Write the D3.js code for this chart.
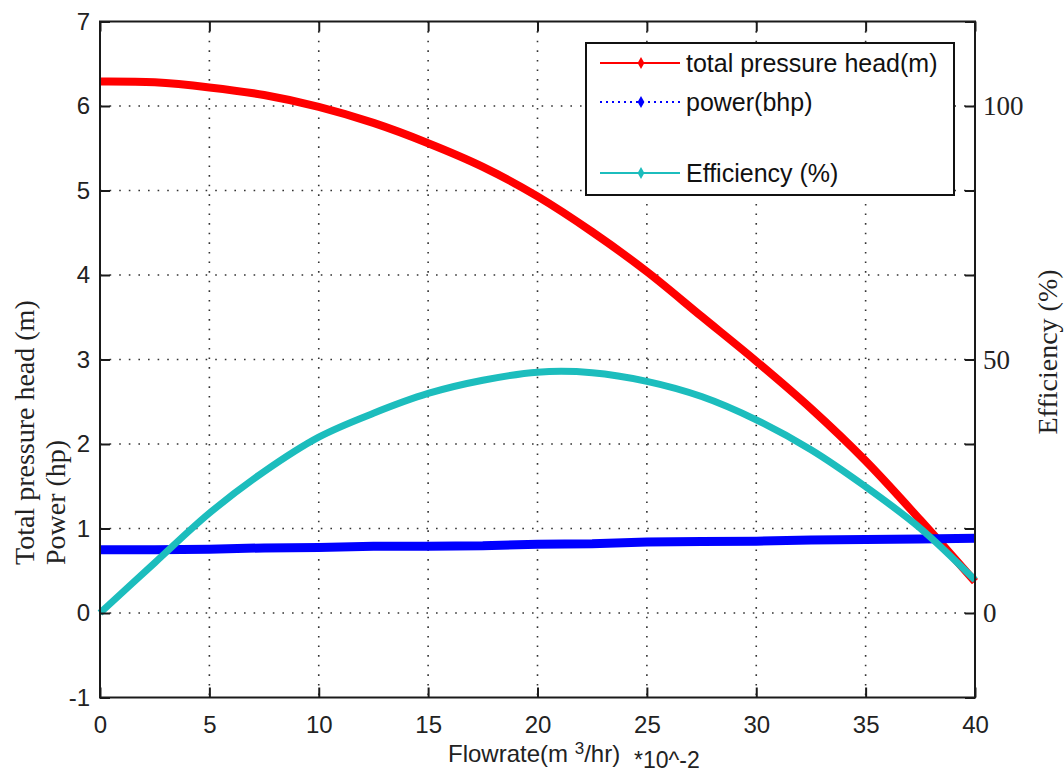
<!DOCTYPE html>
<html>
<head>
<meta charset="utf-8">
<script src="https://cdn.jsdelivr.net/npm/d3@7"></script>
<style>
    body { margin: 0; background: #fff; }
    .tick text { font-family: "Liberation Sans Narrow", "Arial Narrow", "Liberation Sans", Arial, sans-serif; font-size: 24px; fill: #222; }
    .eff.axis .tick text { font-family: "Liberation Serif", "Times New Roman", serif; font-size: 27px; }
    .axis line { stroke: #1a1a1a; stroke-width: 2; }
    .axis path { display: none; }
    .grid line { stroke: #333; stroke-width: 1.6; stroke-dasharray: 1.6 8; }
</style>
</head>
<body>
<div id="chart"></div>
<script>
// values (flowrate in m3/hr *10^-2)
var flowrate = [0, 2.5, 5, 7.5, 10, 12.5, 15, 17.5, 20, 22.5, 25, 27.5, 30, 32.5, 35, 37.5, 40];
var pressureHead = [6.29, 6.28, 6.22, 6.13, 5.99, 5.80, 5.56, 5.28, 4.93, 4.51, 4.04, 3.51, 2.98, 2.42, 1.80, 1.10, 0.37];
var power = [0.75, 0.75, 0.755, 0.77, 0.775, 0.79, 0.79, 0.795, 0.815, 0.82, 0.84, 0.845, 0.85, 0.865, 0.87, 0.875, 0.885];
var efficiency = [0, 9.9, 19.7, 27.9, 34.7, 39.4, 43.3, 45.9, 47.5, 47.4, 45.7, 42.7, 38.1, 32.2, 24.9, 16.7, 6.5];

var xTicks = [0, 5, 10, 15, 20, 25, 30, 35, 40];
var leftTicks = [-1, 0, 1, 2, 3, 4, 5, 6, 7];
var effTicks = [0, 50, 100];

var legendNames = ["total pressure head(m)", "power(bhp)", "Efficiency (%)"];
var legendColors = ["#ff0000", "#0000ff", "#1cbdbd"];

function init() {
    var w = 1064;
    var h = 774;
    var left = 100, right = 975, top = 21.5, bottom = 697.5;

    var svg = d3.select("#chart")
                .append("svg")
                .attr("width", w)
                .attr("height", h);

    var xScale = d3.scaleLinear().domain([0, 40]).range([left, right]);
    var yScale = d3.scaleLinear().domain([-1, 7]).range([bottom, top]);
    // right axis: 50 % sits on left value 3
    var effScale = d3.scaleLinear().domain([-50 / 3, 350 / 3]).range([bottom, top]);

    // dotted grid
    var grid = svg.append("g").attr("class", "grid");
    grid.selectAll(".gx")
        .data(xTicks.slice(1, -1))
        .enter().append("line")
        .attr("x1", function(d) { return xScale(d); })
        .attr("x2", function(d) { return xScale(d); })
        .attr("y1", top)
        .attr("y2", bottom);
    grid.selectAll(".gy")
        .data(leftTicks.slice(1, -1))
        .enter().append("line")
        .attr("x1", left)
        .attr("x2", right)
        .attr("y1", function(d) { return yScale(d); })
        .attr("y2", function(d) { return yScale(d); });

    var rows = flowrate.map(function(f, i) {
        return { x: f, head: pressureHead[i], power: power[i], eff: efficiency[i] };
    });

    var smooth = d3.curveCatmullRom.alpha(0.5);
    var headLine = d3.line()
        .x(function(d) { return xScale(d.x); })
        .y(function(d) { return yScale(d.head); })
        .curve(smooth);
    var powerLine = d3.line()
        .x(function(d) { return xScale(d.x); })
        .y(function(d) { return yScale(d.power); });
    var effLine = d3.line()
        .x(function(d) { return xScale(d.x); })
        .y(function(d) { return effScale(d.eff); })
        .curve(smooth);

    svg.append("path").datum(rows)
        .attr("d", headLine)
        .attr("fill", "none")
        .attr("stroke", legendColors[0])
        .attr("stroke-width", 8);

    svg.append("path").datum(rows)
        .attr("d", powerLine)
        .attr("fill", "none")
        .attr("stroke", legendColors[1])
        .attr("stroke-width", 9);

    svg.append("path").datum(rows)
        .attr("d", effLine)
        .attr("fill", "none")
        .attr("stroke", legendColors[2])
        .attr("stroke-width", 7);

    var plain = function(d) { return String(d); };

    // axes, ticks pointing inwards
    svg.append("g")
        .attr("class", "x axis")
        .attr("transform", "translate(0," + bottom + ")")
        .call(d3.axisBottom(xScale).tickValues(xTicks).tickSize(-10).tickSizeOuter(0).tickPadding(18.5).tickFormat(plain));

    svg.append("g")
        .attr("class", "axis")
        .attr("transform", "translate(0," + top + ")")
        .call(d3.axisTop(xScale).tickValues(xTicks).tickSize(-10).tickSizeOuter(0).tickFormat(""));

    svg.append("g")
        .attr("class", "y axis")
        .attr("transform", "translate(" + left + ",0)")
        .call(d3.axisLeft(yScale).tickValues(leftTicks).tickSize(-10).tickSizeOuter(0).tickPadding(10).tickFormat(plain));

    svg.append("g")
        .attr("class", "axis")
        .attr("transform", "translate(" + right + ",0)")
        .call(d3.axisRight(yScale).tickValues(leftTicks).tickSize(-10).tickSizeOuter(0).tickFormat(""));

    svg.append("g")
        .attr("class", "eff axis")
        .attr("transform", "translate(" + right + ",0)")
        .call(d3.axisRight(effScale).tickValues(effTicks).tickSize(0).tickPadding(8).tickFormat(plain));

    // plot frame
    svg.append("rect")
        .attr("x", left)
        .attr("y", top)
        .attr("width", right - left)
        .attr("height", bottom - top)
        .attr("fill", "none")
        .attr("stroke", "#1a1a1a")
        .attr("stroke-width", 2);

    // legend
    var legend = svg.append("g");
    legend.append("rect")
        .attr("x", 586).attr("y", 43)
        .attr("width", 368).attr("height", 152)
        .attr("fill", "#fff")
        .attr("stroke", "#111")
        .attr("stroke-width", 2);

    var legendY = [63, 102, 173];
    legendNames.forEach(function(name, i) {
        legend.append("line")
            .attr("x1", 600).attr("x2", 680)
            .attr("y1", legendY[i]).attr("y2", legendY[i])
            .attr("stroke", legendColors[i])
            .attr("stroke-width", 2)
            .attr("stroke-dasharray", i === 1 ? "2 4" : null);
        legend.append("path")
            .attr("d", d3.symbol().type(d3.symbolDiamond).size(40))
            .attr("transform", "translate(641," + legendY[i] + ")")
            .attr("fill", legendColors[i]);
        legend.append("text")
            .attr("x", 686)
            .attr("y", legendY[i])
            .attr("dy", "0.35em")
            .attr("font-family", "'Liberation Sans', Arial, sans-serif")
            .attr("font-size", 25)
            .attr("fill", "#111")
            .text(name);
    });

    // axis titles
    var xTitle = svg.append("text")
        .attr("x", 448)
        .attr("y", 762)
        .attr("font-family", "'Liberation Sans', Arial, sans-serif")
        .attr("font-size", 24)
        .attr("fill", "#222");
    xTitle.append("tspan").text("Flowrate(m ");
    xTitle.append("tspan").attr("dy", -8).attr("font-size", 17).text("3");
    xTitle.append("tspan").attr("dy", 8).text("/hr)");

    svg.append("text")
        .attr("x", 634)
        .attr("y", 768)
        .attr("font-family", "'Liberation Sans', Arial, sans-serif")
        .attr("font-size", 23)
        .attr("fill", "#222")
        .text("*10^-2");

    svg.append("text")
        .attr("transform", "translate(34,565) rotate(-90)")
        .attr("font-family", "'Liberation Serif', 'Times New Roman', serif")
        .attr("font-size", 28)
        .attr("fill", "#222")
        .text("Total pressure head (m)");

    svg.append("text")
        .attr("transform", "translate(65,565) rotate(-90)")
        .attr("font-family", "'Liberation Serif', 'Times New Roman', serif")
        .attr("font-size", 28)
        .attr("fill", "#222")
        .text("Power (hp)");

    svg.append("text")
        .attr("transform", "translate(1057,352) rotate(-90)")
        .attr("text-anchor", "middle")
        .attr("font-family", "'Liberation Serif', 'Times New Roman', serif")
        .attr("font-size", 28)
        .attr("fill", "#222")
        .text("Efficiency (%)");
}

window.onload = init;
</script>
</body>
</html>
